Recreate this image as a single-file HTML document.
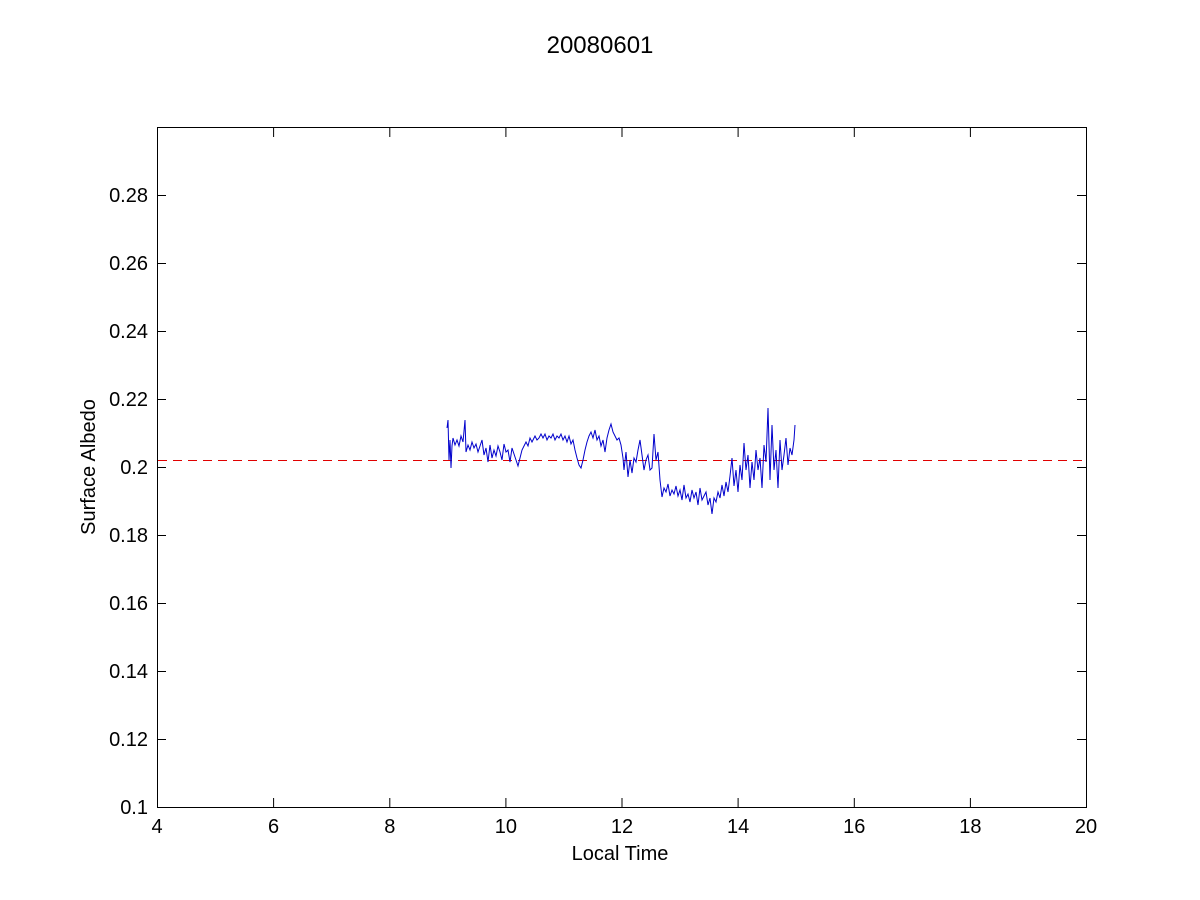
<!DOCTYPE html>
<html><head><meta charset="utf-8"><style>
html,body{margin:0;padding:0;background:#fff;}
svg{display:block;}
text{font-family:"Liberation Sans",Arial,sans-serif;font-size:20px;fill:#000;}
</style></head><body>
<svg width="1200" height="900" viewBox="0 0 1200 900">
<rect width="1200" height="900" fill="#fff"/>
<rect x="157.5" y="127.5" width="929" height="680" fill="#fff" stroke="#000" stroke-width="1"/>
<g stroke="#000" stroke-width="1">
<path d="M157.5 807v-9M157.5 128v9M273.6 807v-9M273.6 128v9M389.8 807v-9M389.8 128v9M505.9 807v-9M505.9 128v9M622 807v-9M622 128v9M738.1 807v-9M738.1 128v9M854.3 807v-9M854.3 128v9M970.4 807v-9M970.4 128v9M1086.5 807v-9M1086.5 128v9"/>
<path d="M157 807.5h9M1086 807.5h-9M157 739.5h9M1086 739.5h-9M157 671.5h9M1086 671.5h-9M157 603.5h9M1086 603.5h-9M157 535.5h9M1086 535.5h-9M157 467.5h9M1086 467.5h-9M157 399.5h9M1086 399.5h-9M157 331.5h9M1086 331.5h-9M157 263.5h9M1086 263.5h-9M157 195.5h9M1086 195.5h-9"/>
</g>
<g text-anchor="middle">
<text x="157" y="833">4</text><text x="273.6" y="833">6</text><text x="389.8" y="833">8</text><text x="505.9" y="833">10</text><text x="622" y="833">12</text><text x="738.1" y="833">14</text><text x="854.3" y="833">16</text><text x="970.4" y="833">18</text><text x="1086" y="833">20</text>
</g>
<g text-anchor="end">
<text x="148" y="814">0.1</text><text x="148" y="746">0.12</text><text x="148" y="678">0.14</text><text x="148" y="610">0.16</text><text x="148" y="542">0.18</text><text x="148" y="474">0.2</text><text x="148" y="406">0.22</text><text x="148" y="338">0.24</text><text x="148" y="270">0.26</text><text x="148" y="202">0.28</text>
</g>
<text x="600" y="53" text-anchor="middle" style="font-size:24px">20080601</text>
<text x="620" y="860" text-anchor="middle">Local Time</text>
<text transform="translate(95,467) rotate(-90)" text-anchor="middle">Surface Albedo</text>
<line x1="158" y1="460.5" x2="1086" y2="460.5" stroke="#e00000" stroke-width="1" stroke-dasharray="9,6"/>
<polyline fill="none" stroke="#0000cc" stroke-width="1" points="447,428 448,420 449,460 450,440 451,468 452,446 453,438 455,445 457,440 459,446 461,436 463,442 465,420 466,452 468,445 470,450 472,442 474,448 476,444 478,452 480,446 482,440 484,455 486,448 488,462 490,445 492,458 494,450 496,456 498,446 500,452 502,460 504,444 506,452 508,450 510,462 512,448 514,454 516,460 518,466 520,458 522,450 524,446 526,442 528,446 530,438 532,442 535,436 537,440 539,438 541,434 543,438 545,434 547,440 549,436 551,438 553,434 555,440 557,436 559,438 561,434 563,440 565,436 567,442 569,436 571,444 573,440 575,450 577,458 579,465 581,468 583,460 585,450 587,442 589,436 591,432 593,438 595,430 597,440 599,436 601,446 603,440 605,452 607,438 609,430 611,424 613,432 615,436 617,440 619,438 621,445 623,458 624,470 626,452 628,477 630,460 632,473 634,458 636,462 638,450 640,440 642,455 644,470 646,460 648,455 650,470 652,468 654,434 656,460 658,452 660,480 662,497 664,488 666,492 668,484 670,496 672,490 674,494 676,486 678,496 680,490 682,500 684,485 686,498 688,494 690,502 692,490 694,498 696,492 698,505 700,488 702,500 704,496 706,492 708,505 710,498 712,514 714,498 716,502 718,492 720,498 722,485 724,496 726,482 728,492 730,476 732,458 734,486 736,470 738,492 740,465 742,480 744,443 746,470 748,455 750,488 752,462 754,480 756,450 758,470 760,458 762,488 764,445 766,462 768,408 770,480 772,425 774,470 776,450 778,488 780,440 782,470 784,455 786,438 788,465 790,448 792,455 794,440 795,425"/>
</svg>
</body></html>
